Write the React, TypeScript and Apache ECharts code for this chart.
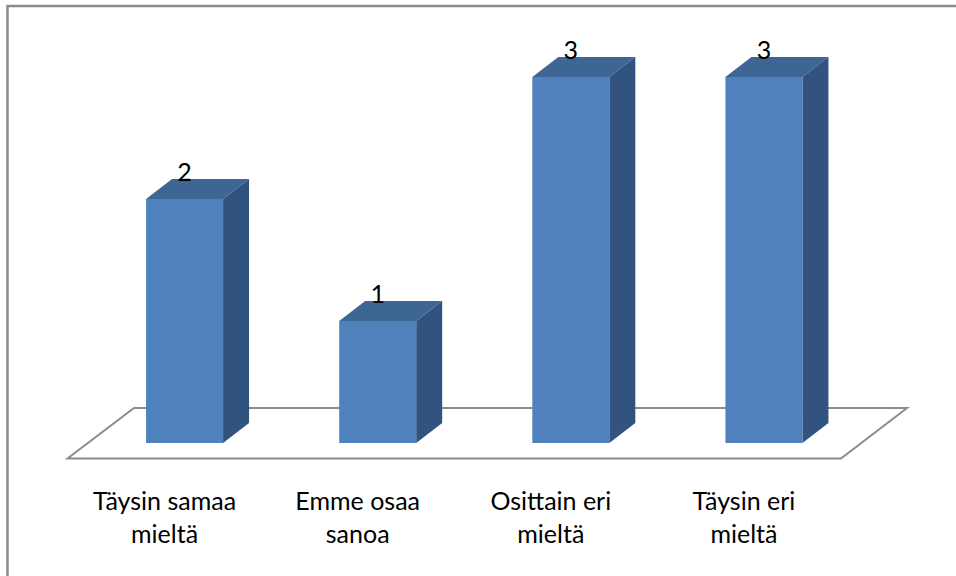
import React, { useEffect, useRef } from "react";
import * as echarts from "echarts";

const categories = ["Täysin samaa\nmieltä", "Emme osaa\nsanoa", "Osittain eri\nmieltä", "Täysin eri\nmieltä"];
const responses = [2, 1, 3, 3];

const FONT = "Lato, 'Open Sans', sans-serif";
const FRONT = "#4F81BD";
const TOP = "#3D6695";
const SIDE = "#32537E";
const FRAME_LINE = "#8C8C8C";
const BAR_WIDTH = 77;
const DEPTH_X = 26;
const DEPTH_Y = 20;

// Box with a front face, a lid and a right side, plus its count above the lid.
function renderBox(_params: any, api: any) {
  const [cx, topY] = api.coord([api.value(0), api.value(1)]);
  const [, baseY] = api.coord([api.value(0), 0]);
  const l = cx - BAR_WIDTH / 2;
  const r = cx + BAR_WIDTH / 2;
  return {
    type: "group",
    children: [
      {
        type: "polygon",
        shape: { points: [[l, topY], [l + DEPTH_X, topY - DEPTH_Y], [r + DEPTH_X, topY - DEPTH_Y], [r, topY]] },
        style: { fill: TOP },
      },
      {
        type: "polygon",
        shape: { points: [[r, topY], [r + DEPTH_X, topY - DEPTH_Y], [r + DEPTH_X, baseY - DEPTH_Y], [r, baseY]] },
        style: { fill: SIDE },
      },
      {
        type: "rect",
        shape: { x: l, y: topY, width: BAR_WIDTH, height: baseY - topY },
        style: { fill: FRONT },
      },
      {
        type: "text",
        style: {
          x: cx,
          y: topY - 28,
          text: String(api.value(1)),
          fill: "#000",
          fontFamily: "Lato",
          fontSize: 25,
          align: "center",
          verticalAlign: "middle",
        },
      },
    ],
  };
}

// Floor parallelogram under the boxes, placed relative to the plot area.
function renderFloor(params: any) {
  const { x, y, width, height } = params.coordSys;
  const base = y + height;
  return {
    type: "polygon",
    shape: {
      points: [
        [x + 46, base - 35],
        [x + width + 46.5, base - 35],
        [x + width - 19.5, base + 15.5],
        [x - 20.5, base + 15.5],
      ],
    },
    style: { fill: "none", stroke: FRAME_LINE, lineWidth: 2 },
  };
}

export default function App() {
  const ref = useRef<HTMLDivElement>(null);
  useEffect(() => {
    const chart = echarts.init(ref.current!, undefined, { renderer: "svg" });
    chart.setOption({
      animation: false,
      backgroundColor: "#fff",
      grid: { left: 88, right: 95.5, top: 77, bottom: 133 },
      xAxis: {
        type: "category",
        data: categories,
        axisLine: { show: false },
        axisTick: { show: false },
        axisLabel: {
          interval: 0,
          margin: 40,
          fontFamily: FONT,
          fontSize: 25,
          lineHeight: 33,
          color: "#000",
          // The captions sit under the floor's front edge, left of the boxes.
          padding: [0, 40, 0, 0],
        },
      },
      yAxis: { type: "value", min: 0, max: 3, show: false },
      graphic: [
        {
          type: "polyline",
          shape: { points: [[7.5, 576], [7.5, 6], [956, 6]] },
          style: { fill: "none", stroke: FRAME_LINE, lineWidth: 2.5 },
        },
      ],
      series: [
        {
          type: "custom",
          coordinateSystem: "cartesian2d",
          renderItem: renderFloor,
          data: [0],
          encode: { x: 0, y: 0 },
          silent: true,
          z: 1,
        },
        {
          type: "custom",
          coordinateSystem: "cartesian2d",
          renderItem: renderBox,
          data: responses.map((v, i) => [i, v]),
          encode: { x: 0, y: 1 },
          z: 2,
        },
      ],
    });
    return () => chart.dispose();
  }, []);
  return <div ref={ref} style={{ position: "fixed", left: 0, top: 0, width: 956, height: 576 }} />;
}
